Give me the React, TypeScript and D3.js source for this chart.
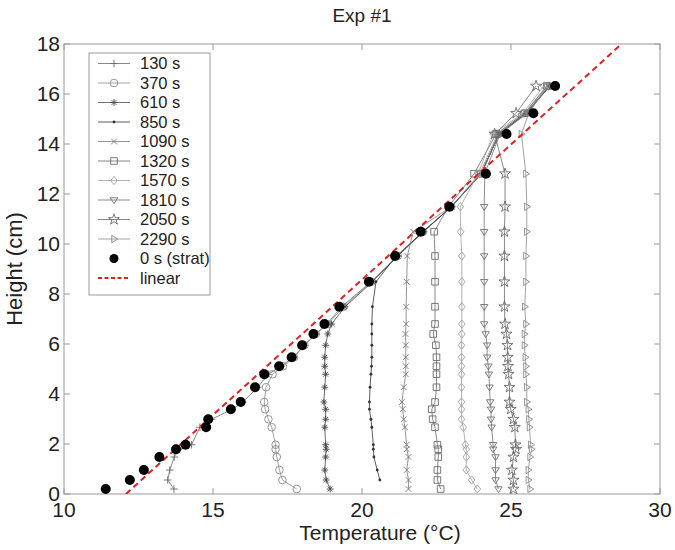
import React from "react";
import * as d3 from "d3";

// ---------- data ----------
const heights = [0.2, 0.56, 0.96, 1.48, 1.79, 1.97, 2.67, 2.99, 3.39, 3.68, 4.27, 4.79, 5.11, 5.47, 5.95, 6.4, 6.8, 7.49, 8.49, 9.52, 10.49, 11.49, 12.81, 14.4, 15.23, 16.32];

const strat = [11.4, 12.21, 12.68, 13.2, 13.76, 14.08, 14.77, 14.84, 15.6, 15.93, 16.41, 16.72, 17.22, 17.64, 17.99, 18.37, 18.74, 19.24, 20.23, 21.11, 21.97, 22.93, 24.16, 24.85, 25.75, 26.48];

const t130 = [13.69, 13.48, 13.55, 13.7, 13.85, 14.28, 14.56, 14.95, 15.65, 16.0, 16.5, 16.85, 17.28, 17.7, 18.05, 18.45, 18.82, 19.32, 20.3, 21.2, 22.05, 23.0, 24.0, 24.6, 25.5, 26.3];
const t370 = [17.81, 17.33, 17.23, 17.14, 17.1, 17.1, 16.97, 16.86, 16.75, 16.72, 16.78, 17.0, 17.35, 17.72, 18.07, 18.45, 18.86, 19.38, 20.32, 21.2, 22.05, 23.0, 23.95, 24.55, 25.45, 26.25];
const t610 = [18.93, 18.8, 18.75, 18.78, 18.8, 18.78, 18.75, 18.78, 18.78, 18.72, 18.75, 18.78, 18.75, 18.75, 18.78, 18.85, 18.98, 19.43, 20.35, 21.2, 22.05, 23.0, 24.0, 24.6, 25.5, 26.3];
const t850 = [null, 20.6, 20.51, 20.4, 20.38, 20.38, 20.33, 20.3, 20.25, 20.25, 20.27, 20.3, 20.32, 20.33, 20.33, 20.33, 20.33, 20.35, 20.47, 21.15, 22.05, 23.0, 24.0, 24.6, 25.5, 26.3];
const t1090 = [21.56, 21.56, 21.5, 21.56, 21.5, 21.5, 21.44, 21.4, 21.37, 21.34, 21.4, 21.47, 21.47, 21.47, 21.47, 21.46, 21.48, 21.48, 21.5, 21.52, 21.72, 23.0, 24.0, 24.6, 25.5, 26.3];
const t1320 = [22.64, 22.53, 22.53, 22.56, 22.56, 22.53, 22.45, 22.37, 22.34, 22.45, 22.5, 22.5, 22.5, 22.5, 22.48, 22.39, 22.45, 22.45, 22.45, 22.45, 22.42, 22.9, 23.76, 24.5, 25.45, 26.2];
const t1570 = [23.87, 23.68, 23.5, 23.5, 23.5, 23.47, 23.4, 23.34, 23.34, 23.34, 23.34, 23.34, 23.34, 23.34, 23.34, 23.35, 23.35, 23.35, 23.35, 23.35, 23.31, 23.3, 23.9, 24.4, 25.4, 26.1];
const t1810 = [24.58, 24.48, 24.48, 24.48, 24.4, 24.4, 24.35, 24.33, 24.33, 24.3, 24.28, 24.26, 24.24, 24.2, 24.2, 24.15, 24.1, 24.1, 24.1, 24.1, 24.1, 24.1, 24.12, 24.63, 25.55, 26.3];
const t2050 = [25.08, 25.08, 25.03, 25.08, 25.17, 25.15, 25.13, 25.08, 24.99, 24.95, 24.95, 24.92, 24.9, 24.89, 24.88, 24.85, 24.8, 24.78, 24.78, 24.78, 24.78, 24.8, 24.8, 24.45, 25.17, 25.84];
const t2290 = [25.64, 25.58, 25.58, 25.64, 25.69, 25.66, 25.62, 25.6, 25.58, 25.53, 25.53, 25.5, 25.5, 25.48, 25.45, 25.45, 25.5, 25.46, 25.5, 25.5, 25.53, 25.53, 25.5, 25.35, 25.6, 26.2];

const seriesLabels = ["130 s", "370 s", "610 s", "850 s", "1090 s", "1320 s", "1570 s", "1810 s", "2050 s", "2290 s"];
const seriesValues = [t130, t370, t610, t850, t1090, t1320, t1570, t1810, t2050, t2290];
const stratLabel = "0 s (strat)";
const linearLabel = "linear";
const linearEnds = [{ t: 12.08, h: 0 }, { t: 28.71, h: 18 }];

const xTicks = [10, 15, 20, 25, 30];
const yTicks = [0, 2, 4, 6, 8, 10, 12, 14, 16, 18];

// ---------- styles ----------
const markerTypes = ["plus", "circle", "asterisk", "point", "x", "square", "diamond", "tridown", "star", "triright"];
const seriesColors = ["#6a6a6a", "#8a8a8a", "#484848", "#333", "#7a7a7a", "#6a6a6a", "#a0a0a0", "#707070", "#6a6a6a", "#8a8a8a"];

function markerPath(type: string, s: number): string {
  switch (type) {
    case "plus":
      return `M${-s},0H${s}M0,${-s}V${s}`;
    case "x":
      return `M${-s * 0.75},${-s * 0.75}L${s * 0.75},${s * 0.75}M${-s * 0.75},${s * 0.75}L${s * 0.75},${-s * 0.75}`;
    case "asterisk": {
      const d = s * 0.7;
      return `M${-s},0H${s}M0,${-s}V${s}M${-d},${-d}L${d},${d}M${-d},${d}L${d},${-d}`;
    }
    case "square":
      return `M${-s},${-s}H${s}V${s}H${-s}Z`;
    case "diamond":
      return `M0,${-s * 1.25}L${s},0L0,${s * 1.25}L${-s},0Z`;
    case "tridown":
      return `M${-s},${-s * 0.6}L${s},${-s * 0.6}L0,${s}Z`;
    case "triright":
      return `M${-s * 0.6},${-s}L${s},0L${-s * 0.6},${s}Z`;
    case "star":
      return d3.symbol(d3.symbolStar, s * s * 2.6)() as string;
    default:
      return "";
  }
}

const markerSize: Record<string, number> = {
  plus: 3.8, x: 3.8, asterisk: 3.4, square: 3.3, diamond: 3.3, tridown: 3.7, triright: 3.7, star: 3.8,
};

function Marker({ type, x, y, color }: { type: string; x: number; y: number; color: string }) {
  if (type === "circle") return <circle cx={x} cy={y} r={3.8} fill="none" stroke={color} strokeWidth={0.9} />;
  if (type === "point") return <circle cx={x} cy={y} r={1.4} fill={color} />;
  return (
    <path
      d={markerPath(type, markerSize[type])}
      transform={`translate(${x},${y})`}
      fill="none"
      stroke={color}
      strokeWidth={0.9}
    />
  );
}

export default function App() {
  const W = 675;
  const H = 550;
  const left = 64, right = 660, top = 44, bottom = 494;
  const x = d3.scaleLinear().domain([10, 30]).range([left, right]);
  const y = d3.scaleLinear().domain([0, 18]).range([bottom, top]);

  const line = d3
    .line<[number, number | null]>()
    .defined((d) => d[1] !== null)
    .x((d) => x(d[1] as number))
    .y((d) => y(d[0]));

  const font = "'Liberation Sans', Arial, sans-serif";
  const axisColor = "#9a9a9a";

  const legendX = 89, legendY = 53, legendW = 121, legendH = 242;
  const legendRow0 = 63.5, legendStep = 19.5;
  const allLegend = [...seriesLabels, stratLabel, linearLabel];

  return (
    <svg width={W} height={H} style={{ position: "absolute", left: 0, top: 0, background: "#fff" }} fontFamily={font}>
      <defs>
        <clipPath id="plotClip">
          <rect x={left} y={top} width={right - left} height={bottom - top} />
        </clipPath>
      </defs>
      <rect x={0} y={0} width={W} height={H} fill="#fff" />

      {/* frame */}
      <rect x={left} y={top} width={right - left} height={bottom - top} fill="none" stroke={axisColor} strokeWidth={1} />
      {xTicks.map((t) => (
        <g key={"xt" + t}>
          <line x1={x(t)} x2={x(t)} y1={bottom} y2={bottom - 6} stroke={axisColor} />
          <line x1={x(t)} x2={x(t)} y1={top} y2={top + 6} stroke={axisColor} />
          <text x={x(t)} y={517} textAnchor="middle" fontSize={21} fill="#222">{t}</text>
        </g>
      ))}
      {yTicks.map((t) => (
        <g key={"yt" + t}>
          <line x1={left} x2={left + 6} y1={y(t)} y2={y(t)} stroke={axisColor} />
          <line x1={right} x2={right - 6} y1={y(t)} y2={y(t)} stroke={axisColor} />
          <text x={60} y={y(t) - 1} dy="0.36em" textAnchor="end" fontSize={21} fill="#222">{t}</text>
        </g>
      ))}

      {/* series */}
      <g clipPath="url(#plotClip)">
        {seriesValues.map((vals, i) => {
          const pts = heights.map((h, j) => [h, vals[j]] as [number, number | null]);
          return (
            <g key={"s" + i}>
              <path d={line(pts) || ""} fill="none" stroke={seriesColors[i]} strokeWidth={0.8} />
              {pts
                .filter((p) => p[1] !== null)
                .map((p, j) => (
                  <Marker key={j} type={markerTypes[i]} x={x(p[1] as number)} y={y(p[0])} color={seriesColors[i]} />
                ))}
            </g>
          );
        })}
        <line
          x1={x(linearEnds[0].t)}
          y1={y(linearEnds[0].h)}
          x2={x(linearEnds[1].t)}
          y2={y(linearEnds[1].h)}
          stroke="#e02020"
          strokeWidth={2}
          strokeDasharray="6,4"
        />
        {strat.map((t, j) => (
          <circle key={"st" + j} cx={x(t)} cy={y(heights[j])} r={5} fill="#000" />
        ))}
      </g>

      {/* legend */}
      <rect x={legendX} y={legendY} width={legendW} height={legendH} fill="#fff" stroke={axisColor} strokeWidth={1} />
      {allLegend.map((lab, i) => {
        const ly = legendRow0 + i * legendStep;
        let sample: React.ReactNode;
        if (i < seriesLabels.length) {
          sample = (
            <g>
              <line x1={98} x2={130} y1={ly} y2={ly} stroke={seriesColors[i]} strokeWidth={0.8} />
              <Marker type={markerTypes[i]} x={114} y={ly} color={seriesColors[i]} />
            </g>
          );
        } else if (lab === stratLabel) {
          sample = <circle cx={114} cy={ly} r={4.5} fill="#000" />;
        } else {
          sample = <line x1={98} x2={130} y1={ly} y2={ly} stroke="#e02020" strokeWidth={2} strokeDasharray="4,2.5" />;
        }
        return (
          <g key={"lg" + i}>
            {sample}
            <text x={140} y={ly} dy="0.36em" fontSize={16.5} fill="#222">{lab}</text>
          </g>
        );
      })}

      {/* titles */}
      <text x={362} y={22} textAnchor="middle" fontSize={19} fill="#222">Exp #1</text>
      <text x={380} y={540} textAnchor="middle" fontSize={21} fill="#222">Temperature (°C)</text>
      <text transform={`translate(22,${(top + bottom) / 2}) rotate(-90)`} textAnchor="middle" fontSize={22} fill="#222">Height (cm)</text>
    </svg>
  );
}
